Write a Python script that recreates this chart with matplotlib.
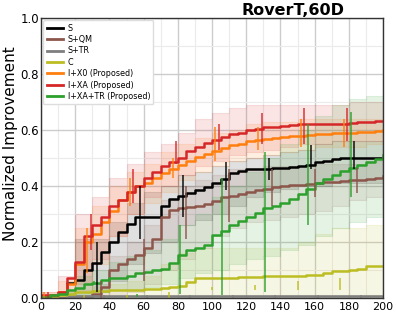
import numpy as np
import matplotlib
matplotlib.use('Agg')
import matplotlib.pyplot as plt
from matplotlib.ticker import MultipleLocator

# sample grids (evaluation budget)
x_line = np.arange(0, 201, 5)
x_band = np.arange(0, 201, 10)

labels = ['S', 'S+QM', 'S+TR', 'C', 'I+X0 (Proposed)', 'I+XA (Proposed)', 'I+XA+TR (Proposed)']
colors = ['black', '#8c564b', '#7f7f7f', '#bcbd22', '#ff7f0e', '#d62728', '#2ca02c']

# mean curves, one value every 5 evaluations
s_mean = [0, 0, 0, 0.055, 0.065, 0.10, 0.125, 0.165, 0.20, 0.235, 0.265, 0.29, 0.29, 0.29,
          0.33, 0.355, 0.365, 0.375, 0.385, 0.395, 0.41, 0.425, 0.445, 0.455, 0.46, 0.46,
          0.462, 0.465, 0.465, 0.468, 0.47, 0.475, 0.485, 0.49, 0.495, 0.50, 0.50, 0.50,
          0.50, 0.50, 0.50]
sqm_mean = [0, 0, 0, 0, 0, 0.005, 0.015, 0.04, 0.10, 0.12, 0.14, 0.155, 0.18, 0.21, 0.29,
            0.315, 0.32, 0.325, 0.33, 0.335, 0.345, 0.36, 0.365, 0.37, 0.38, 0.385, 0.39,
            0.395, 0.40, 0.402, 0.405, 0.408, 0.41, 0.413, 0.415, 0.418, 0.42, 0.42, 0.425,
            0.43, 0.435]
str_mean = [0, 0, 0, 0.007, 0.007, 0.007, 0.007, 0.007, 0.007, 0.007, 0.007, 0.007, 0.007,
            0.007, 0.007, 0.007, 0.007, 0.007, 0.007, 0.007, 0.007, 0.007, 0.007, 0.007,
            0.007, 0.007, 0.007, 0.007, 0.007, 0.007, 0.007, 0.007, 0.007, 0.007, 0.007,
            0.007, 0.007, 0.007, 0.007, 0.007, 0.007]
c_mean = [0.005, 0.008, 0.01, 0.015, 0.02, 0.022, 0.024, 0.025, 0.027, 0.028, 0.029, 0.03,
          0.031, 0.033, 0.035, 0.038, 0.043, 0.057, 0.07, 0.07, 0.07, 0.072, 0.072, 0.074,
          0.075, 0.076, 0.077, 0.078, 0.079, 0.08, 0.08, 0.082, 0.083, 0.09, 0.095, 0.097,
          0.10, 0.105, 0.115, 0.115, 0.115]
ix0_mean = [0.005, 0.01, 0.02, 0.05, 0.12, 0.20, 0.23, 0.27, 0.31, 0.35, 0.38, 0.40, 0.41,
            0.43, 0.445, 0.46, 0.475, 0.49, 0.505, 0.515, 0.525, 0.535, 0.545, 0.55, 0.56,
            0.565, 0.568, 0.57, 0.575, 0.578, 0.58, 0.582, 0.585, 0.587, 0.59, 0.59, 0.59,
            0.592, 0.593, 0.595, 0.60]
ixa_mean = [0.01, 0.01, 0.02, 0.07, 0.13, 0.22, 0.26, 0.29, 0.33, 0.35, 0.38, 0.40, 0.43,
            0.45, 0.47, 0.485, 0.50, 0.525, 0.54, 0.555, 0.565, 0.575, 0.585, 0.59, 0.60,
            0.605, 0.61, 0.612, 0.615, 0.617, 0.62, 0.62, 0.622, 0.622, 0.622, 0.622, 0.625,
            0.63, 0.63, 0.632, 0.632]
ixatr_mean = [0.005, 0.01, 0.015, 0.03, 0.035, 0.05, 0.055, 0.065, 0.07, 0.07, 0.08, 0.09,
              0.093, 0.10, 0.105, 0.125, 0.155, 0.17, 0.18, 0.19, 0.225, 0.24, 0.26, 0.275,
              0.29, 0.305, 0.32, 0.33, 0.34, 0.355, 0.37, 0.39, 0.41, 0.425, 0.44, 0.455,
              0.465, 0.475, 0.485, 0.495, 0.51]

# spread bands, one value every 10 evaluations
s_lo = [0, 0, 0, 0.02, 0.06, 0.12, 0.16, 0.20, 0.26, 0.28, 0.30, 0.33, 0.36, 0.38, 0.39,
        0.40, 0.40, 0.41, 0.41, 0.41, 0.41]
s_hi = [0, 0, 0.21, 0.21, 0.27, 0.34, 0.38, 0.40, 0.44, 0.45, 0.47, 0.49, 0.50, 0.51, 0.52,
        0.53, 0.55, 0.56, 0.56, 0.56, 0.56]
sqm_lo = [0, 0, 0, 0, 0, 0.02, 0.05, 0.10, 0.14, 0.18, 0.22, 0.25, 0.27, 0.28, 0.29, 0.30,
          0.31, 0.33, 0.35, 0.36, 0.37]
sqm_hi = [0, 0, 0.01, 0.05, 0.15, 0.20, 0.26, 0.35, 0.40, 0.42, 0.44, 0.46, 0.46, 0.47, 0.47,
          0.47, 0.48, 0.48, 0.48, 0.49, 0.49]
str_lo = [0, 0, 0, 0, 0, 0, 0, 0, 0, 0, 0, 0, 0, 0, 0, 0, 0, 0, 0, 0, 0]
str_hi = [0, 0, 0.01, 0.01, 0.01, 0.01, 0.01, 0.01, 0.01, 0.01, 0.01, 0.01, 0.01, 0.01, 0.01,
          0.01, 0.01, 0.01, 0.01, 0.01, 0.01]
c_lo = [0, 0, 0, 0, 0, 0, 0, 0, 0, 0, 0, 0, 0, 0, 0, 0, 0, 0, 0, 0, 0]
c_hi = [0.01, 0.02, 0.03, 0.04, 0.05, 0.06, 0.08, 0.12, 0.16, 0.18, 0.18, 0.18, 0.18, 0.18,
        0.18, 0.20, 0.23, 0.25, 0.25, 0.26, 0.27]
ix0_lo = [0, 0, 0.03, 0.12, 0.22, 0.30, 0.34, 0.38, 0.42, 0.45, 0.47, 0.49, 0.50, 0.51, 0.52,
          0.53, 0.54, 0.54, 0.54, 0.55, 0.55]
ix0_hi = [0.02, 0.06, 0.25, 0.33, 0.40, 0.45, 0.48, 0.52, 0.55, 0.57, 0.59, 0.60, 0.62, 0.63,
          0.63, 0.64, 0.64, 0.64, 0.64, 0.64, 0.65]
ixa_lo = [0, 0, 0.05, 0.14, 0.22, 0.30, 0.36, 0.40, 0.44, 0.47, 0.49, 0.51, 0.52, 0.53, 0.54,
          0.55, 0.55, 0.56, 0.56, 0.56, 0.56]
ixa_hi = [0.02, 0.08, 0.30, 0.36, 0.43, 0.48, 0.52, 0.55, 0.59, 0.64, 0.66, 0.68, 0.69, 0.69,
          0.69, 0.69, 0.69, 0.69, 0.70, 0.70, 0.70]
ixatr_lo = [0, 0, 0.01, 0.02, 0.03, 0.03, 0.04, 0.05, 0.07, 0.09, 0.10, 0.12, 0.14, 0.15,
            0.17, 0.19, 0.22, 0.25, 0.27, 0.29, 0.30]
ixatr_hi = [0.01, 0.02, 0.08, 0.10, 0.13, 0.15, 0.17, 0.21, 0.26, 0.30, 0.36, 0.40, 0.45,
            0.50, 0.55, 0.60, 0.65, 0.69, 0.71, 0.72, 0.73]

# error bars (x, low, high)
s_err_x = [8, 33, 58, 83, 108, 133, 158, 183]
s_err_lo = [0, 0.02, 0.21, 0.29, 0.385, 0.42, 0.46, 0.46]
s_err_hi = [0, 0.20, 0.40, 0.44, 0.485, 0.50, 0.545, 0.56]
sqm_err_x = [10, 35, 60, 85, 110, 135, 160, 185]
sqm_err_lo = [0, 0, 0.06, 0.21, 0.27, 0.33, 0.36, 0.375]
sqm_err_hi = [0, 0.06, 0.21, 0.40, 0.46, 0.46, 0.46, 0.465]
str_err_x = [12, 37, 62, 87, 112, 137, 162, 187]
str_err_lo = [0, 0, 0, 0, 0, 0, 0, 0]
str_err_hi = [0, 0.01, 0.01, 0.01, 0.01, 0.01, 0.01, 0.01]
c_err_x = [0, 25, 50, 75, 100, 125, 150, 175]
c_err_lo = [0, 0, 0, 0, 0.03, 0.03, 0.03, 0.03]
c_err_hi = [0.01, 0.01, 0.01, 0.02, 0.04, 0.045, 0.06, 0.07]
ix0_err_x = [2, 27, 52, 77, 102, 127, 152, 177]
ix0_err_lo = [0, 0.09, 0.33, 0.43, 0.49, 0.53, 0.54, 0.54]
ix0_err_hi = [0.02, 0.25, 0.43, 0.50, 0.61, 0.61, 0.64, 0.64]
ixa_err_x = [4, 29, 54, 79, 104, 129, 154, 179]
ixa_err_lo = [0, 0.17, 0.34, 0.48, 0.53, 0.55, 0.55, 0.56]
ixa_err_hi = [0.02, 0.30, 0.46, 0.56, 0.62, 0.66, 0.68, 0.68]
ixatr_err_x = [6, 31, 56, 81, 106, 131, 156, 181]
ixatr_err_lo = [0, 0.05, 0.005, 0.015, 0.01, 0.02, 0.26, 0.36]
ixatr_err_hi = [0.01, 0.06, 0.015, 0.26, 0.43, 0.52, 0.62, 0.665]

means = [s_mean, sqm_mean, str_mean, c_mean, ix0_mean, ixa_mean, ixatr_mean]
los = [s_lo, sqm_lo, str_lo, c_lo, ix0_lo, ixa_lo, ixatr_lo]
his = [s_hi, sqm_hi, str_hi, c_hi, ix0_hi, ixa_hi, ixatr_hi]
err_xs = [s_err_x, sqm_err_x, str_err_x, c_err_x, ix0_err_x, ixa_err_x, ixatr_err_x]
err_los = [s_err_lo, sqm_err_lo, str_err_lo, c_err_lo, ix0_err_lo, ixa_err_lo, ixatr_err_lo]
err_his = [s_err_hi, sqm_err_hi, str_err_hi, c_err_hi, ix0_err_hi, ixa_err_hi, ixatr_err_hi]

plt.rcParams['font.family'] = ['DejaVu Sans']

fig = plt.figure(figsize=(3.96, 3.16), dpi=100)
ax = fig.add_axes([0.1035, 0.057, 0.864, 0.886])

for lo, hi, c in zip(los, his, colors):
    ax.fill_between(x_band, lo, hi, step='post', color=c, alpha=0.12, lw=0.8)

for m, c, lab in zip(means, colors, labels):
    ax.plot(x_line, m, color=c, lw=1.8, drawstyle='steps-post', label=lab)

for ex, elo, ehi, c in zip(err_xs, err_los, err_his, colors):
    ax.vlines(ex, elo, ehi, color=c, lw=1.2, alpha=0.85)

ax.set_xlim(0, 200)
ax.set_ylim(0, 1.0)
ax.xaxis.set_major_locator(MultipleLocator(20))
ax.xaxis.set_minor_locator(MultipleLocator(10))
ax.yaxis.set_major_locator(MultipleLocator(0.2))
ax.yaxis.set_minor_locator(MultipleLocator(0.1))
ax.grid(which='major', color='#cccccc', lw=1.0)
ax.grid(which='minor', color='#ebebeb', lw=0.8)
ax.set_axisbelow(True)
ax.tick_params(which='both', length=0)
ax.tick_params(axis='x', labelsize=8, pad=3)
ax.tick_params(axis='y', labelsize=8.5, pad=1.5)
for sp in ax.spines.values():
    sp.set_color('#333333')
    sp.set_linewidth(1.0)

ax.set_ylabel('Normalized Improvement', fontsize=11)
ax.yaxis.set_label_coords(-0.068, 0.55)
ax.set_title('RoverT,60D', fontsize=11.5, fontweight='bold', x=0.737, pad=2)

leg = ax.legend(loc='upper left', fontsize=5.8, labelspacing=0.3, handlelength=2.0,
                handletextpad=0.6, borderaxespad=0.3, framealpha=1.0, fancybox=True)
leg.get_frame().set_edgecolor('#dddddd')
for h in leg.get_lines():
    h.set_linewidth(2.0)

fig.savefig('out.png', dpi=100)
